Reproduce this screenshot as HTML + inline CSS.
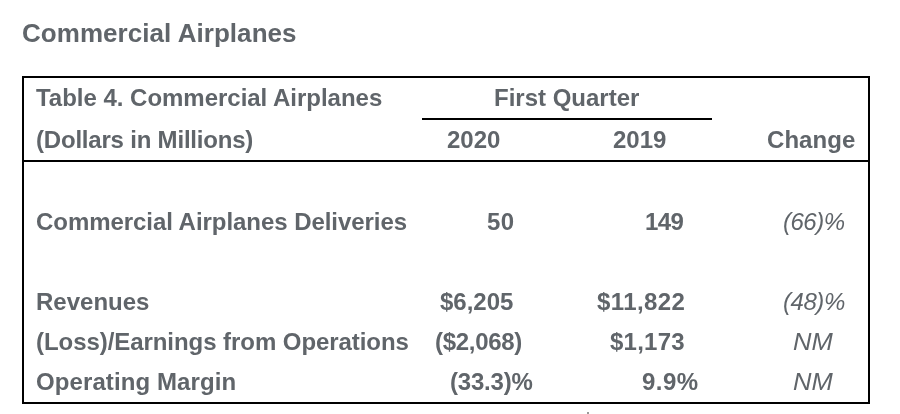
<!DOCTYPE html>
<html>
<head>
<meta charset="utf-8">
<style>
html,body{margin:0;padding:0;background:#fff;width:900px;height:414px;overflow:hidden;}
body{position:relative;font-family:"Liberation Sans",sans-serif;color:#60656a;}
.t{will-change:transform;position:absolute;white-space:nowrap;line-height:1;font-weight:bold;font-size:24px;}
.i{font-weight:normal;font-style:italic;}
.box{position:absolute;left:22px;top:76px;width:844px;height:324px;border:2px solid #000;}
.hl{position:absolute;background:#000;}
</style>
</head>
<body>
<div class="t" style="left:22px;top:20px;font-size:26px;letter-spacing:0.05px;">Commercial Airplanes</div>
<div class="box"></div>
<div class="hl" style="left:22px;top:160px;width:848px;height:2px;"></div>
<div class="hl" style="left:422px;top:118px;width:290px;height:2px;"></div>

<div class="t" style="left:36px;top:86px;letter-spacing:-0.02px;">Table 4. Commercial Airplanes</div>
<div class="t" style="left:494px;top:86px;">First Quarter</div>
<div class="t" style="left:36px;top:128px;letter-spacing:-0.2px;">(Dollars in Millions)</div>
<div class="t" style="left:447px;top:128px;">2020</div>
<div class="t" style="left:613px;top:128px;">2019</div>
<div class="t" style="left:767px;top:128px;letter-spacing:0.05px;">Change</div>

<div class="t" style="left:36px;top:210px;letter-spacing:-0.05px;">Commercial Airplanes Deliveries</div>
<div class="t" style="left:487px;top:210px;letter-spacing:0.5px;">50</div>
<div class="t" style="left:645px;top:210px;letter-spacing:-0.6px;">149</div>
<div class="t i" style="left:783px;top:210px;letter-spacing:-0.5px;">(66)%</div>

<div class="t" style="left:36px;top:290px;">Revenues</div>
<div class="t" style="left:440px;top:290px;">$6,205</div>
<div class="t" style="left:597px;top:290px;letter-spacing:0.4px;">$11,822</div>
<div class="t i" style="left:783px;top:290px;letter-spacing:-0.45px;">(48)%</div>

<div class="t" style="left:36px;top:330px;letter-spacing:-0.06px;">(Loss)/Earnings from Operations</div>
<div class="t" style="left:435px;top:330px;letter-spacing:-0.3px;">($2,068)</div>
<div class="t" style="left:610px;top:330px;letter-spacing:0.24px;">$1,173</div>
<div class="t i" style="left:793px;top:330px;transform:scaleX(1.065);transform-origin:0 0;">NM</div>

<div class="t" style="left:36px;top:370px;letter-spacing:0.1px;">Operating Margin</div>
<div class="t" style="left:450px;top:370px;letter-spacing:-0.2px;">(33.3)%</div>
<div class="t" style="left:642px;top:370px;letter-spacing:0.45px;">9.9%</div>
<div class="t i" style="left:793px;top:370px;transform:scaleX(1.065);transform-origin:0 0;">NM</div>
<div style="position:absolute;left:587px;top:412px;width:2px;height:2px;background:#9a9a9a;"></div>
</body>
</html>
